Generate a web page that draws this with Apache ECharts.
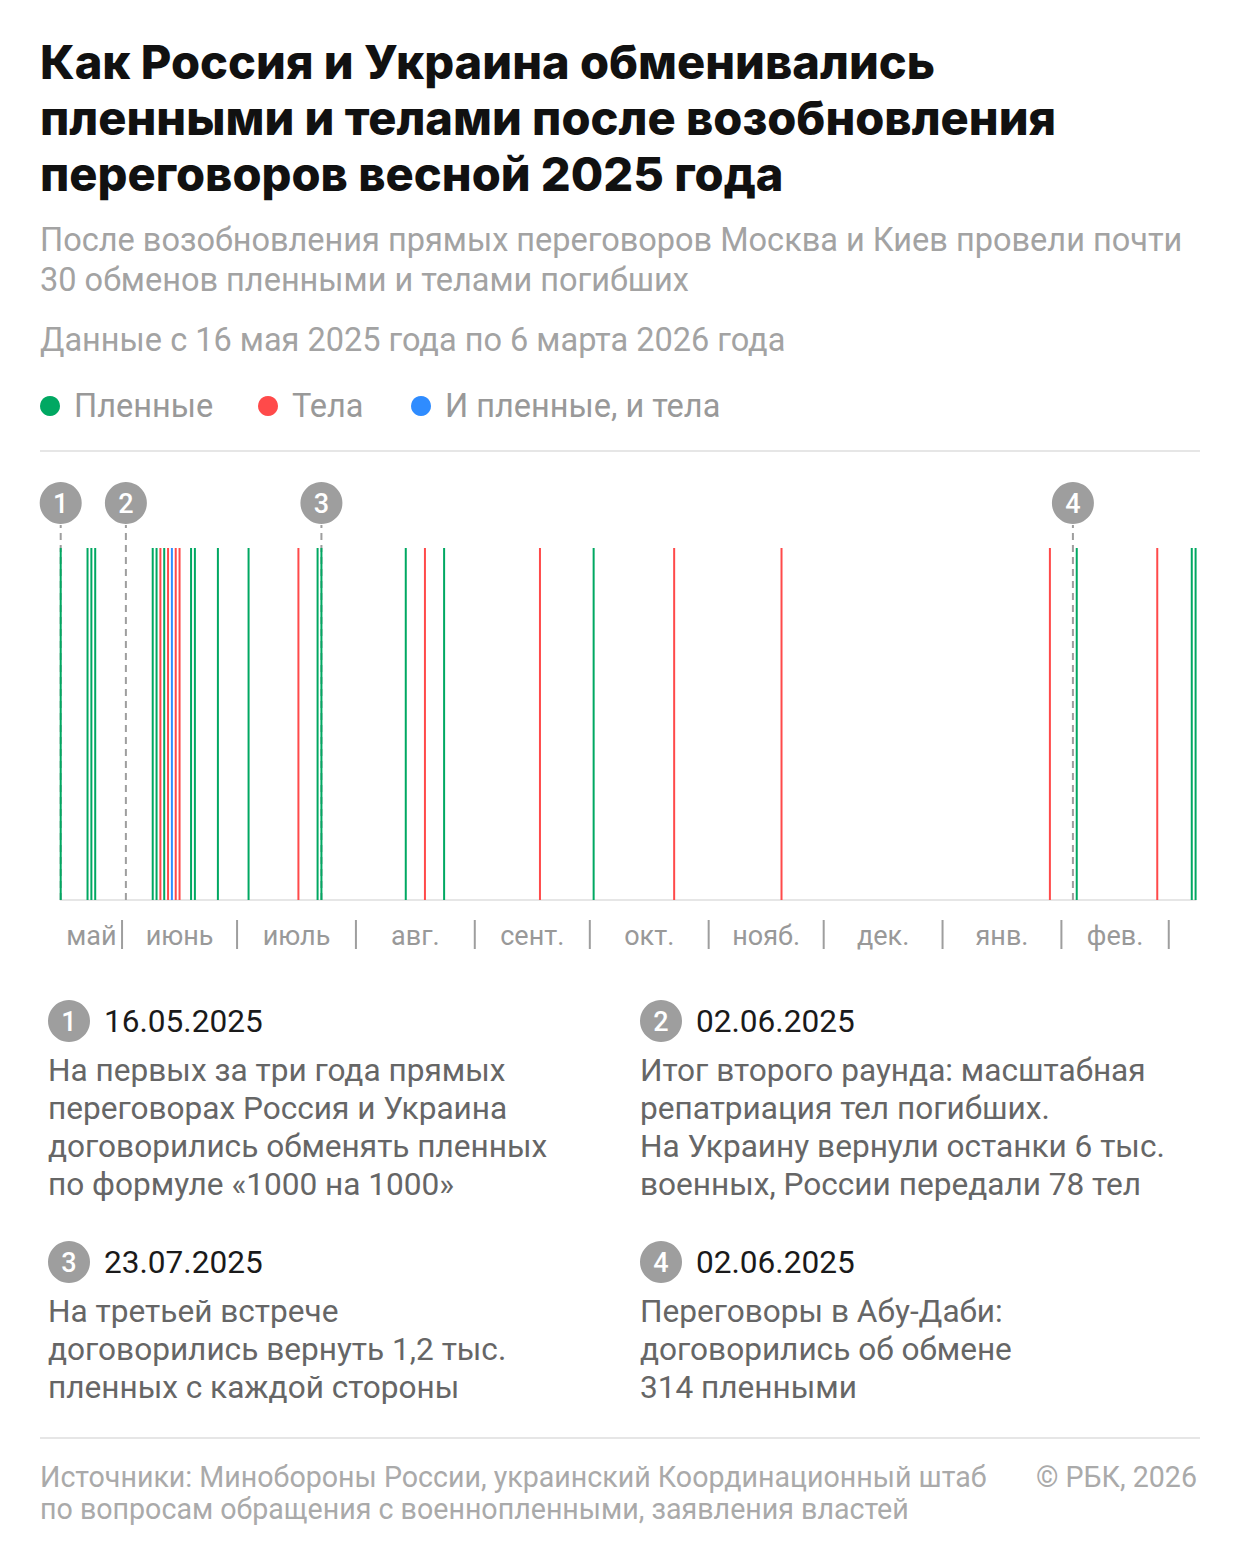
<!DOCTYPE html>
<html>
<head>
<meta charset="utf-8">
<script src="https://cdn.jsdelivr.net/npm/echarts@6/dist/echarts.min.js"></script>
<style>
html,body{margin:0;padding:0;background:#fff;}
#chart{width:1240px;height:1558px;}
</style>
</head>
<body>
<div id="chart"></div>
<script>
// ---- DATA ----
const axisStart = '2025-05-16';
const axisEnd = '2026-03-08';
const prisonerDates = ['2025-05-16','2025-05-23','2025-05-24','2025-05-25','2025-06-09','2025-06-10','2025-06-12','2025-06-19','2025-06-20','2025-06-26','2025-07-04','2025-07-22','2025-07-23','2025-08-14','2025-08-24','2025-10-02','2026-02-05','2026-03-07','2026-03-08'];
const bodyDates = ['2025-06-11','2025-06-13','2025-06-15','2025-06-16','2025-07-17','2025-08-19','2025-09-18','2025-10-23','2025-11-20','2026-01-29','2026-02-26'];
const bothDates = ['2025-06-14'];
const markerDates = ['2025-05-16','2025-06-02','2025-07-23','2026-02-04'];
const markerNumbers = ['1','2','3','4'];
const monthStarts = ['2025-05-16','2025-06-01','2025-07-01','2025-08-01','2025-09-01','2025-10-01','2025-11-01','2025-12-01','2026-01-01','2026-02-01','2026-03-01'];
const monthLabels = ['май','июнь','июль','авг.','сент.','окт.','нояб.','дек.','янв.','фев.'];
const seriesNames = ['Пленные','Тела','И пленные, и тела'];
const seriesColors = ['#00a862','#ff4a4a','#2f8cff'];

const titleLines = ['Как Россия и Украина обменивались','пленными и телами после возобновления','переговоров весной 2025 года'];
const subtitleLines = ['После возобновления прямых переговоров Москва и Киев провели почти','30 обменов пленными и телами погибших'];
const periodText = 'Данные с 16 мая 2025 года по 6 марта 2026 года';
const noteDates = ['16.05.2025','02.06.2025','23.07.2025','02.06.2025'];
const noteTexts = [
  ['На первых за три года прямых','переговорах Россия и Украина','договорились обменять пленных','по формуле «1000 на 1000»'],
  ['Итог второго раунда: масштабная','репатриация тел погибших.','На Украину вернули останки 6 тыс.','военных, России передали 78 тел'],
  ['На третьей встрече','договорились вернуть 1,2 тыс.','пленных с каждой стороны'],
  ['Переговоры в Абу-Даби:','договорились об обмене','314 пленными']
];
const sourceLines = ['Источники: Минобороны России, украинский Координационный штаб','по вопросам обращения с военнопленными, заявления властей'];
const copyrightText = '© РБК, 2026';

// ---- RENDER ----
const FONT = 'Roboto, "Noto Sans", sans-serif';
const chart = echarts.init(document.getElementById('chart'), null, {renderer:'svg'});

function txt(x, y, text, size, color, opts) {
  opts = opts || {};
  return {
    type:'text', x:x, y:y, silent:true,
    style:{text:text, fill:color, fontSize:size, fontFamily:opts.family||FONT, fontWeight:opts.weight||'normal',
      textAlign:opts.align||'left', textVerticalAlign:'middle'}
  };
}
const graphics = [];
titleLines.forEach((t,i)=>graphics.push(txt(40, 61+i*56, t, 47, '#111', {weight:800, family:'Inter, Roboto, sans-serif'})));
subtitleLines.forEach((t,i)=>graphics.push(txt(40, 240+i*40, t, 32.5, '#a3a3a3')));
graphics.push(txt(40, 340, periodText, 32.5, '#a3a3a3'));
const legendX = [50, 268, 421];
seriesNames.forEach((n,i)=>{
  graphics.push({type:'circle', silent:true, shape:{cx:legendX[i], cy:406, r:10}, style:{fill:seriesColors[i]}});
  graphics.push(txt(legendX[i]+24, 406, n, 32.5, '#999'));
});
graphics.push({type:'line', silent:true, shape:{x1:40,y1:451,x2:1200,y2:451}, style:{stroke:'#e6e6e6', lineWidth:2}});
graphics.push({type:'line', silent:true, shape:{x1:40,y1:1438,x2:1200,y2:1438}, style:{stroke:'#e6e6e6', lineWidth:2}});
const noteX = [48, 640, 48, 640];
const noteY = [1021, 1021, 1262, 1262];
noteDates.forEach((d,i)=>{
  graphics.push({type:'circle', silent:true, shape:{cx:noteX[i]+21, cy:noteY[i], r:21}, style:{fill:'#9e9e9e'}});
  graphics.push(txt(noteX[i]+21, noteY[i]+1, markerNumbers[i], 27, '#fff', {align:'center', weight:500}));
  graphics.push(txt(noteX[i]+56, noteY[i], d, 31.6, '#1a1a1a'));
  noteTexts[i].forEach((t,j)=>graphics.push(txt(noteX[i], noteY[i]+49+j*38, t, 31.6, '#666')));
});
sourceLines.forEach((t,i)=>graphics.push(txt(40, 1477+i*32, t, 28.6, '#aaa')));
graphics.push(txt(1197, 1477, copyrightText, 28.6, '#aaa', {align:'right'}));

function vline(color) {
  return function(params, api) {
    const p0 = api.coord([api.value(0), 0]);
    const p1 = api.coord([api.value(0), 1]);
    return {type:'line', shape:{x1:p0[0], y1:p0[1], x2:p1[0], y2:p1[1]}, style:{stroke:color, lineWidth:2}};
  };
}
function toData(arr){ return arr.map(d=>[d, 1]); }

const monthMid = monthLabels.map((l,i)=>{
  const a = +new Date(monthStarts[i]), b = +new Date(monthStarts[i+1]);
  return [(a+b)/2, 0];
});

chart.setOption({
  animation:false,
  graphic:graphics,
  grid:{left:60.7, right:44.4, top:548, bottom:658},
  xAxis:{type:'time', min:axisStart, max:axisEnd,
    axisLine:{show:true, lineStyle:{color:'#e6e6e6', width:2}},
    axisTick:{show:false}, axisLabel:{show:false}, splitLine:{show:false}},
  yAxis:{type:'value', min:0, max:1, show:false},
  series:[
    {type:'custom', name:'markers', clip:false, silent:true, z:1,
     data:markerDates.map(d=>[d,1]),
     renderItem:function(params, api){
       const p0 = api.coord([api.value(0), 0]);
       const p1 = api.coord([api.value(0), 1]);
       return {type:'group', children:[
         {type:'line', shape:{x1:p0[0], y1:p0[1], x2:p0[0], y2:p1[1]-23}, style:{stroke:'#9e9e9e', lineWidth:2, lineDash:[7,5]}},
         {type:'circle', shape:{cx:p0[0], cy:p1[1]-45, r:21}, style:{fill:'#9e9e9e'}},
         {type:'text', style:{text:markerNumbers[params.dataIndex], x:p0[0], y:p1[1]-44, fill:'#fff', fontSize:27, fontWeight:500, fontFamily:FONT, textAlign:'center', textVerticalAlign:'middle'}}
       ]};
     }},
    {type:'custom', name:seriesNames[0], clip:false, z:3, data:toData(prisonerDates), renderItem:vline(seriesColors[0]), itemStyle:{color:seriesColors[0]}},
    {type:'custom', name:seriesNames[1], clip:false, z:3, data:toData(bodyDates), renderItem:vline(seriesColors[1]), itemStyle:{color:seriesColors[1]}},
    {type:'custom', name:seriesNames[2], clip:false, z:3, data:toData(bothDates), renderItem:vline(seriesColors[2]), itemStyle:{color:seriesColors[2]}},
    {type:'custom', name:'monthSeparators', clip:false, silent:true,
     data:monthStarts.slice(1).map(d=>[d,0]),
     renderItem:function(params, api){
       const p = api.coord([api.value(0), 0]);
       return {type:'line', shape:{x1:p[0], y1:p[1]+20, x2:p[0], y2:p[1]+49}, style:{stroke:'#9e9e9e', lineWidth:2}};
     }},
    {type:'custom', name:'monthLabels', clip:false, silent:true,
     data:monthMid,
     renderItem:function(params, api){
       const p = api.coord([api.value(0), 0]);
       return {type:'text', style:{text:monthLabels[params.dataIndex], x:p[0], y:p[1]+36, fill:'#999', fontSize:27, fontFamily:FONT, textAlign:'center', textVerticalAlign:'middle'}};
     }}
  ]
});
</script>
</body>
</html>
